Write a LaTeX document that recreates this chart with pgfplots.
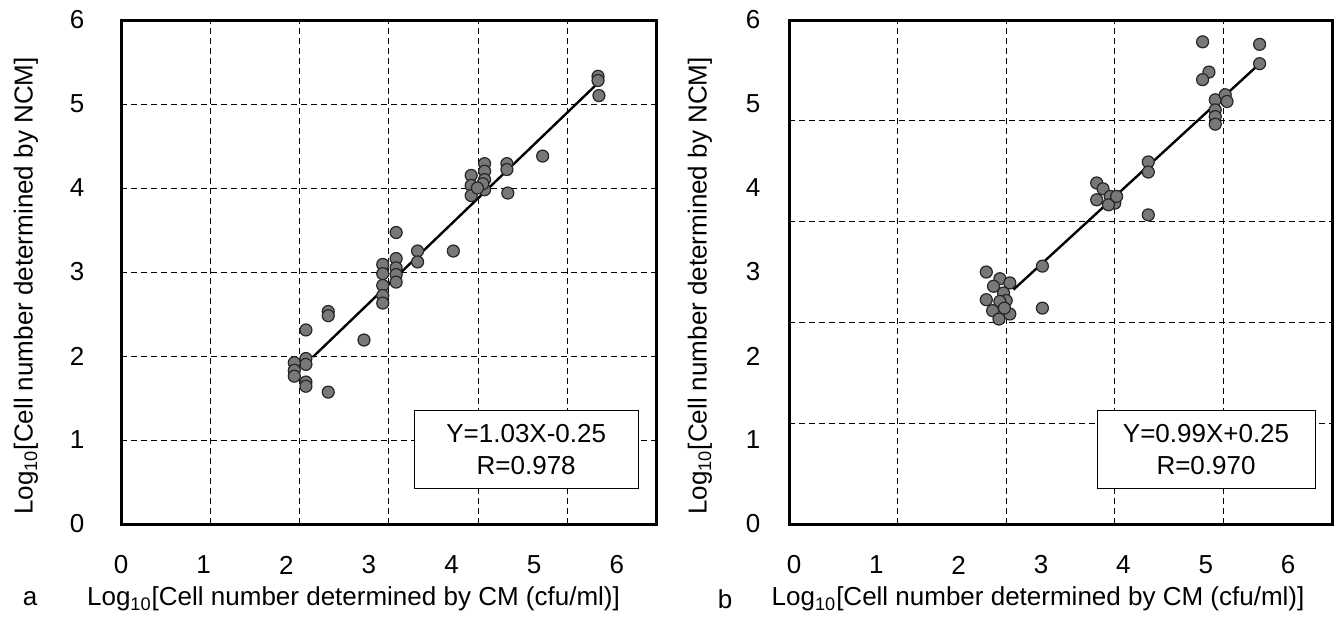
\documentclass[border=0pt]{standalone}
\usepackage{fontspec}
\setmainfont{Liberation Sans}
\usepackage{pgfplots}
\pgfplotsset{compat=1.18}
\definecolor{dotfill}{RGB}{120,120,120}
\begin{document}
\begin{tikzpicture}
\path[use as bounding box] (0,0) rectangle (669pt,311.5pt);
\pgfplotsset{
  panel/.style={
    scale only axis, height=252pt,
    xmin=0, xmax=6, ymin=0, ymax=6,
    axis line style={line width=1.5pt},
    major tick length=0pt,
    ytick={0,1,2,3,4,5,6},
    xticklabels={0,1,2,3,4,5,6},
    tick label style={font=\fontsize{13}{15}\selectfont},
    /pgf/number format/assume math mode=true,
    yticklabel style={anchor=center},
    xticklabel style={anchor=center, yshift=-20.5pt},
    extra tick style={grid=major, major grid style={black, line width=0.5pt, dash pattern=on 3pt off 2pt}},
  },
  dots/.style={only marks, mark=*, mark size=3pt, mark options={draw=black!85, fill=dotfill, line width=0.6pt}},
}
% ---------------- panel a ----------------
\begin{axis}[panel, at={(60.5pt,49.5pt)}, anchor=south west, width=268pt,
  xtick={0,0.925,1.85,2.775,3.7,4.625,5.55},
  extra x ticks={1,2,3,4,5}, extra x tick labels={,,,,},
  extra y ticks={1,2,3,4,5}, extra y tick labels={,,,,},
  yticklabel style={xshift=-22pt}]
\addplot[dots] coordinates {
(5.34,5.33) (5.34,5.28) (5.35,5.10) (4.72,4.38) (4.32,4.29) (4.32,4.22) (4.33,3.94)
(4.07,4.29) (4.07,4.20) (4.07,4.10) (4.07,3.98) (4.05,4.05) (3.92,4.15) (3.92,4.03)
(3.92,3.91) (3.99,4.00) (3.72,3.25) (3.32,3.25) (3.32,3.12) (3.08,3.47) (3.08,3.16)
(3.08,3.05) (3.08,2.97) (3.08,2.88) (2.93,3.09) (2.93,2.98) (2.93,2.84) (2.93,2.72)
(2.93,2.63) (2.72,2.19) (2.32,2.53) (2.32,2.48) (2.07,2.31) (2.07,1.97) (2.07,1.90)
(1.94,1.92) (1.94,1.83) (1.94,1.76) (2.07,1.69) (2.07,1.64) (2.32,1.57)
};
\addplot[black, line width=1.2pt, no marks] coordinates {(2.15,1.99) (5.33,5.24)};
\node[draw, fill=white, line width=0.5pt, align=center, minimum width=112pt, minimum height=39pt,
  font=\fontsize{13}{16}\selectfont] at (rel axis cs:0.756,0.147) {Y=1.03X-0.25\\R=0.978};
\end{axis}
% ---------------- panel b ----------------
\begin{axis}[panel, at={(394.5pt,49.5pt)}, anchor=south west, width=271.5pt,
  xtick={0.055,0.965,1.875,2.785,3.695,4.605,5.515},
  extra x ticks={1.2,2.4,3.6,4.8}, extra x tick labels={,,,},
  extra y ticks={1.2,2.4,3.6,4.8}, extra y tick labels={,,,},
  yticklabel style={xshift=-18pt}]
\addplot[dots] coordinates {
(4.57,5.74) (5.20,5.71) (5.20,5.48) (4.64,5.38) (4.57,5.29)
(4.71,5.05) (4.82,5.11) (4.84,5.03) (4.71,4.93) (4.71,4.85) (4.71,4.76)
(3.97,4.31) (3.97,4.19) (3.97,3.68)
(3.40,4.06) (3.47,3.99) (3.40,3.86) (3.55,3.90) (3.60,3.82) (3.53,3.80) (3.62,3.90)
(2.80,3.07) (2.80,2.57)
(2.18,3.00) (2.33,2.92) (2.26,2.83) (2.44,2.87) (2.18,2.67) (2.37,2.75) (2.40,2.66)
(2.33,2.65) (2.25,2.54) (2.32,2.44) (2.44,2.50) (2.38,2.57)
};
\addplot[black, line width=1.2pt, no marks] coordinates {(2.48,2.79) (5.20,5.48)};
\node[draw, fill=white, line width=0.5pt, align=center, minimum width=109pt, minimum height=39pt,
  font=\fontsize{13}{16}\selectfont] at (rel axis cs:0.768,0.147) {Y=0.99X+0.25\\R=0.970};
\end{axis}
% ---------------- labels ----------------
\node[rotate=90, font=\fontsize{13}{15}\selectfont] at (13pt,168.5pt) {Log\textsubscript{10}[Cell number determined by NCM]};
\node[rotate=90, font=\fontsize{13}{15}\selectfont] at (350pt,168.5pt) {Log\textsubscript{10}[Cell number determined by NCM]};
\node[font=\fontsize{13}{15}\selectfont] at (15pt,12pt) {a};
\node[font=\fontsize{13}{15}\selectfont] at (176.75pt,12pt) {Log\textsubscript{10}[Cell number determined by CM (cfu/ml)]};
\node[font=\fontsize{13}{15}\selectfont] at (362.5pt,12pt) {b};
\node[font=\fontsize{13}{15}\selectfont] at (519pt,12pt) {Log\textsubscript{10}[Cell number determined by CM (cfu/ml)]};
\end{tikzpicture}
\end{document}
